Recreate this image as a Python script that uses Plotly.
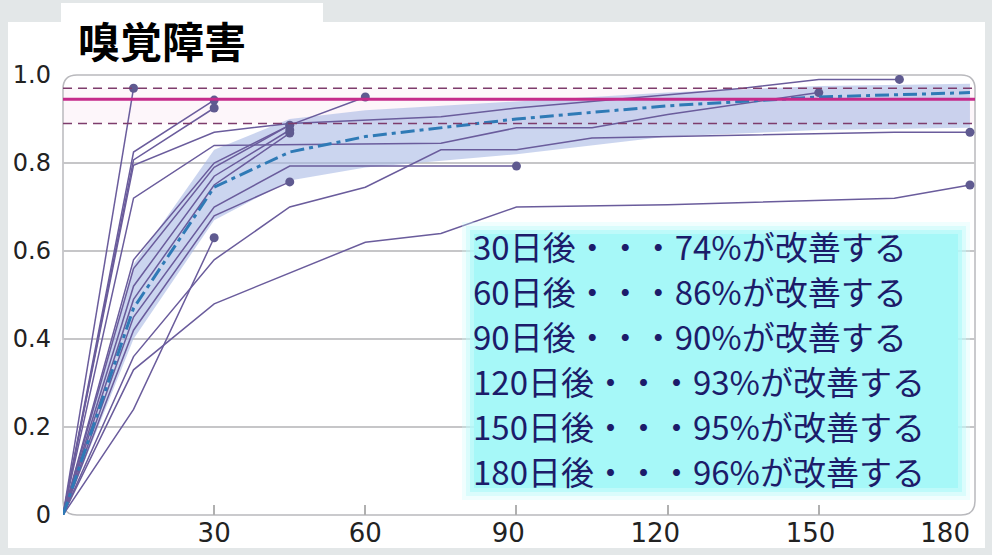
import plotly.graph_objects as go

# ---------------- data ----------------
study_days = [
    [0, 14],
    [0, 14, 30],
    [0, 14, 30],
    [0, 14, 30],
    [0, 14, 30, 45],
    [0, 14, 30, 45],
    [0, 14, 30, 45],
    [0, 14, 30, 45],
    [0, 14, 30, 45, 60],
    [0, 14, 30, 45, 90],
    [0, 14, 30, 45, 75, 90, 135, 150, 166],
    [0, 14, 30, 75, 90, 105, 120, 150],
    [0, 14, 30, 45, 60, 75, 90, 105, 165, 180],
    [0, 14, 30, 45, 60, 75, 90, 120, 165, 180],
]
study_vals = [
    [0, 0.97],
    [0, 0.825, 0.943],
    [0, 0.807, 0.925],
    [0, 0.24, 0.63],
    [0, 0.58, 0.80, 0.886],
    [0, 0.52, 0.77, 0.875],
    [0, 0.49, 0.75, 0.868],
    [0, 0.42, 0.68, 0.757],
    [0, 0.56, 0.79, 0.886, 0.95],
    [0, 0.45, 0.70, 0.793, 0.793],
    [0, 0.795, 0.87, 0.89, 0.905, 0.925, 0.97, 0.99, 0.99],
    [0, 0.72, 0.84, 0.845, 0.88, 0.88, 0.91, 0.96],
    [0, 0.36, 0.58, 0.70, 0.745, 0.83, 0.83, 0.857, 0.87, 0.87],
    [0, 0.33, 0.48, 0.55, 0.62, 0.64, 0.70, 0.705, 0.72, 0.75],
]

pooled_days = [0, 14, 30, 45, 60, 90, 120, 150, 180]
pooled_mean = [0, 0.47, 0.745, 0.825, 0.86, 0.90, 0.93, 0.95, 0.96]
pooled_lower = [0, 0.40, 0.67, 0.76, 0.79, 0.82, 0.86, 0.875, 0.88]
pooled_upper = [0, 0.57, 0.83, 0.90, 0.92, 0.94, 0.96, 0.975, 0.98]

ref_mean = 0.945
ref_lower = 0.89
ref_upper = 0.97

NB = "\u00a0"
x_tickvals = [30, 60, 90, 120, 150]
x_ticktext = ["30", "60", "90" + NB * 2, "120" + NB * 3, "150" + NB * 2]
x_last_tickval = [180]
x_last_ticktext = ["180"]
y_tickvals = [0, 0.2, 0.4, 0.6, 0.8, 1.0]
y_ticktext = ["0", "0.2", "0.4", "0.6", "0.8", "1.0"]
x_range = [0, 181]

title_text = "嗅覚障害"
summary_lines = [
    "30日後・・・74%が改善する",
    "60日後・・・86%が改善する",
    "90日後・・・90%が改善する",
    "120日後・・・93%が改善する",
    "150日後・・・95%が改善する",
    "180日後・・・96%が改善する",
]

# ---------------- layout geometry (pixels) ----------------
W, H = 992, 555
L, R, T, B = 63, 975, 75, 515
PW, PH = R - L, B - T


def px(x):
    return (x - L) / PW


def py(y):
    return (B - y) / PH


fig = go.Figure()

# CI band
fig.add_trace(go.Scatter(x=pooled_days, y=pooled_upper, mode="lines",
                         line=dict(width=0), hoverinfo="skip", showlegend=False))
fig.add_trace(go.Scatter(x=pooled_days, y=pooled_lower, mode="lines",
                         line=dict(width=0), fill="tonexty",
                         fillcolor="rgba(165,182,228,0.58)",
                         hoverinfo="skip", showlegend=False))

# individual studies
for d, v in zip(study_days, study_vals):
    fig.add_trace(go.Scatter(x=d, y=v, mode="lines",
                             line=dict(color="#6a5c9c", width=1.5),
                             showlegend=False))
fig.add_trace(go.Scatter(x=[d[-1] for d in study_days],
                         y=[v[-1] for v in study_vals],
                         mode="markers",
                         marker=dict(color="#5f5a90", size=9),
                         showlegend=False))

# pooled mean
fig.add_trace(go.Scatter(x=pooled_days, y=pooled_mean, mode="lines",
                         line=dict(color="#2f7ab6", width=3,
                                   dash="14px,5px,4px,5px"),
                         showlegend=False))

# invisible helper trace so the secondary x axis (last tick label) is drawn
fig.add_trace(go.Scatter(x=pooled_days, y=pooled_mean, xaxis="x2", yaxis="y",
                         mode="lines", line=dict(width=0), opacity=0,
                         hoverinfo="skip", showlegend=False))

shapes = []
# white card
shapes.append(dict(type="rect", xref="paper", yref="paper", layer="below",
                   x0=px(8), x1=px(985), y0=py(548), y1=py(22),
                   fillcolor="white", line=dict(width=0)))
# title box
shapes.append(dict(type="rect", xref="paper", yref="paper", layer="below",
                   x0=px(61), x1=px(323), y0=py(26), y1=py(3),
                   fillcolor="white", line=dict(width=0)))
# faint band between dashed reference lines
shapes.append(dict(type="rect", xref="paper", yref="y", layer="below",
                   x0=0, x1=1, y0=ref_lower, y1=ref_upper,
                   fillcolor="rgba(248,225,240,0.3)", line=dict(width=0)))
# rounded plot frame
rx, ry = 14 / PW, 14 / PH
frame = (f"M {rx},1 L {1-rx},1 Q 1,1 1,{1-ry} L 1,{ry} Q 1,0 {1-rx},0 "
         f"L {rx},0 Q 0,0 0,{ry} L 0,{1-ry} Q 0,1 {rx},1 Z")
shapes.append(dict(type="path", xref="paper", yref="paper", layer="below",
                   path=frame, line=dict(color="#b9b9bd", width=1.5)))
# reference lines
shapes.append(dict(type="line", xref="paper", yref="y", x0=0, x1=1,
                   y0=ref_upper, y1=ref_upper,
                   line=dict(color="#7e3c6c", width=1.5, dash="9px,6px")))
shapes.append(dict(type="line", xref="paper", yref="y", x0=0, x1=1,
                   y0=ref_lower, y1=ref_lower,
                   line=dict(color="#7e3c6c", width=1.5, dash="9px,6px")))
shapes.append(dict(type="line", xref="paper", yref="y", x0=0, x1=1,
                   y0=ref_mean, y1=ref_mean,
                   line=dict(color="#c52a8a", width=3)))
# cyan summary box with soft edges
for pad, col in [(12, "rgba(205,252,252,0.3)"), (8, "rgba(190,251,251,0.45)"),
                 (4, "rgba(175,249,249,0.65)"), (0, "#a6f8f8")]:
    shapes.append(dict(type="rect", xref="paper", yref="paper", layer="above",
                       x0=px(474 - pad), x1=px(958 + pad),
                       y0=py(488 + pad), y1=py(234 - pad),
                       fillcolor=col, line=dict(width=0)))

annotations = [
    dict(text=f"<b>{title_text}</b>", xref="paper", yref="paper",
         x=px(76), y=py(40), xanchor="left", yanchor="middle",
         showarrow=False,
         font=dict(family="Noto Sans CJK JP", size=42, color="black")),
]
line_y = [246, 291, 336, 381, 426, 471]
for t, yy in zip(summary_lines, line_y):
    annotations.append(dict(text=t, xref="paper", yref="paper",
                            x=px(471), y=py(yy), xanchor="left", yanchor="middle",
                            showarrow=False,
                            font=dict(family="Noto Sans CJK JP", size=33,
                                      color="#1c1c6a")))

xtickfont = dict(family="DejaVu Sans", size=26, color="#222222")
fig.update_layout(
    width=W, height=H,
    margin=dict(l=L, r=W - R, t=T, b=H - B, pad=0, autoexpand=False),
    paper_bgcolor="#e3e7e8",
    plot_bgcolor="rgba(0,0,0,0)",
    shapes=shapes,
    annotations=annotations,
    showlegend=False,
    xaxis=dict(range=x_range, tickvals=x_tickvals, ticktext=x_ticktext,
               showgrid=False, zeroline=False, showline=False, automargin=False,
               ticks="inside", ticklen=10, tickcolor="#b0b0b0", tickwidth=1.5,
               tickfont=xtickfont),
    xaxis2=dict(range=x_range, tickvals=x_last_tickval, ticktext=x_last_ticktext,
                overlaying="x", side="bottom", anchor="y",
                showgrid=False, zeroline=False, showline=False, automargin=False,
                ticks="", ticklabelposition="outside left",
                tickfont=xtickfont),
    yaxis=dict(range=[0, 1], tickvals=y_tickvals, ticktext=y_ticktext,
               showgrid=True, gridcolor="#c6c6c8", gridwidth=1.5,
               zeroline=False, showline=False, ticks="", automargin=False,
               ticklabelstandoff=11,
               tickfont=dict(family="DejaVu Sans", size=24, color="#222222")),
)

fig.write_html("out.html",
               config={"displayModeBar": False},
               post_script="document.body.style.margin='0';"
                           "document.body.style.overflow='hidden';")
